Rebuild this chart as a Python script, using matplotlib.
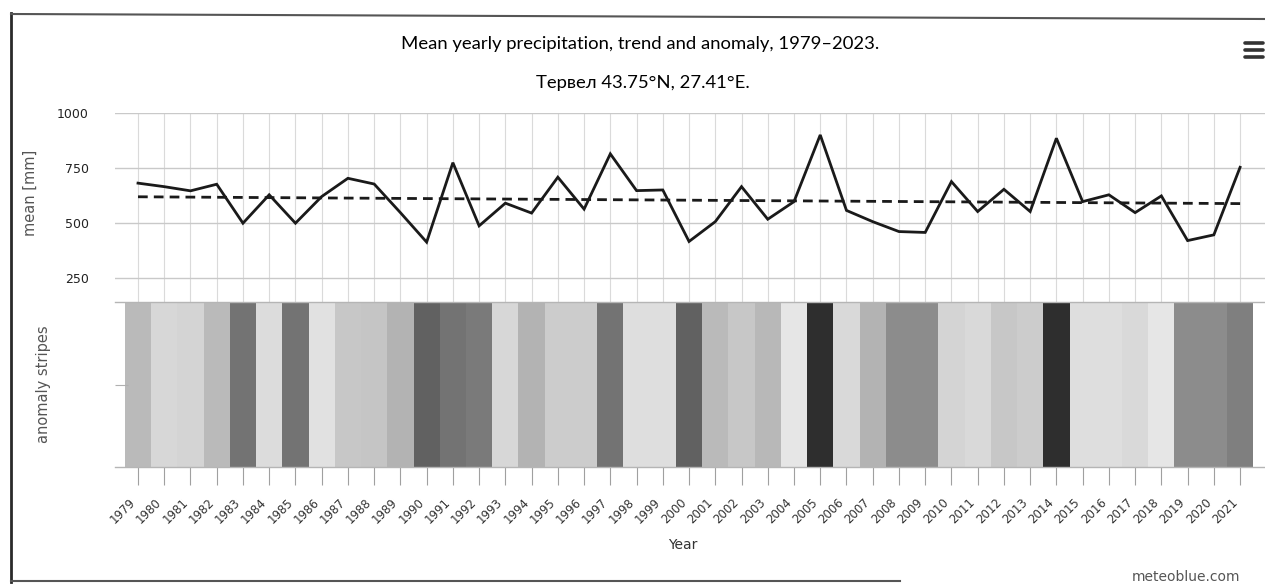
import numpy as np
import matplotlib
matplotlib.use("Agg")
import matplotlib.pyplot as plt
from matplotlib.lines import Line2D

# yearly mean precipitation
years = list(range(1979, 2022))
precip = [680, 664, 645, 675, 498, 627, 498, 619, 702, 676,
          546, 412, 773, 486, 589, 544, 707, 562, 813, 646,
          649, 415, 505, 664, 516, 596, 899, 556, 505, 460,
          456, 687, 551, 652, 551, 884, 596, 627, 546, 622,
          419, 445, 752]

# linear trend, end points
trend_years = [1979, 2021]
trend_mm = [618, 587]

# stripe darkness (0 = white, 1 = black) as seen in the scan
stripe_shade = [0.27, 0.16, 0.17, 0.27, 0.55, 0.14, 0.55, 0.12, 0.22, 0.23,
                0.30, 0.62, 0.55, 0.52, 0.16, 0.30, 0.20, 0.20, 0.55, 0.13,
                0.13, 0.62, 0.27, 0.22, 0.28, 0.10, 0.82, 0.15, 0.30, 0.45,
                0.45, 0.17, 0.15, 0.22, 0.20, 0.82, 0.13, 0.13, 0.15, 0.10,
                0.45, 0.45, 0.50]

y_ticks = [250, 500, 750, 1000]

title = "Mean yearly precipitation, trend and anomaly, 1979\u20132023."
subtitle = "Тервел 43.75°N, 27.41°E."

W, H = 1265, 584
fig = plt.figure(figsize=(W / 100, H / 100), dpi=100)
plt.rcParams['font.family'] = ['DejaVu Sans']


def px_box(x0, y0, x1, y1):
    return [x0 / W, 1 - y1 / H, (x1 - x0) / W, (y1 - y0) / H]


# one year is about 26.24 px, 1979 sits at x=138
x_lo = 1979 - (138 - 115) / 26.24
x_hi = 1979 + (1265 - 138) / 26.24

ax = fig.add_axes(px_box(115, 112.7, 1265, 302))
ax_s = fig.add_axes(px_box(115, 302, 1265, 467))

# --- upper panel: mean and trend
ax.plot(years, precip, color="#1a1a1a", lw=2.0, solid_joinstyle="miter", zorder=3)
ax.plot(trend_years, trend_mm, color="#1a1a1a", lw=2.0, dashes=(3.5, 2.2), zorder=3)
ax.set_xlim(x_lo, x_hi)
ax.set_ylim(140, 1000)
ax.set_xticks(years)
ax.set_yticks(y_ticks)
ax.grid(axis="x", color="#dadada", lw=0.8)
ax.grid(axis="y", color="#c9c9c9", lw=1.0)
ax.tick_params(axis="x", length=0, labelbottom=False)
ax.tick_params(axis="y", length=0, pad=19, labelsize=9, labelcolor="#222222")
for s in ax.spines.values():
    s.set_visible(False)
ax.set_ylabel("mean [mm]", fontsize=10.5, color="#555555")
ax.yaxis.set_label_coords((38 - 115) / 1150, (302 - 193) / 189.3)

# --- lower panel: anomaly stripes
edges = np.append(np.array(years) - 0.5, years[-1] + 0.5)
ax_s.pcolormesh(edges, [0, 1], [stripe_shade], cmap="gray_r", vmin=0, vmax=1)
ax_s.set_xlim(x_lo, x_hi)
ax_s.set_ylim(0, 1)
ax_s.set_xticks(years)
ax_s.set_xticklabels([str(y) for y in years], rotation=45, ha="right")
ax_s.tick_params(axis="x", length=13, width=0.8, color="#a0a0a0", pad=8,
                 labelsize=8.5, labelcolor="#333333")
ax_s.set_yticks([0.5])
ax_s.tick_params(axis="y", direction="in", length=9, width=0.8,
                 color="#b0b0b0", labelleft=False)
for side in ("left", "right"):
    ax_s.spines[side].set_visible(False)
for side in ("top", "bottom"):
    ax_s.spines[side].set_color("#b5b5b5")
    ax_s.spines[side].set_linewidth(1.0)
ax_s.set_ylabel("anomaly stripes", fontsize=10.5, color="#555555")
ax_s.yaxis.set_label_coords((51 - 115) / 1150, 0.5)

# --- texts
title_fam = ["Lato", "DejaVu Sans"]
fig.text(640 / W, 1 - 44 / H, title, ha="center", va="center",
         fontsize=13.3, family=title_fam, color="#000000")
fig.text(643 / W, 1 - 83 / H, subtitle, ha="center", va="center",
         fontsize=13.3, family=title_fam, color="#000000")
fig.text(683 / W, 1 - 545 / H, "Year", ha="center", va="center",
         fontsize=10, color="#333333")
fig.text(1240 / W, 1 - 577 / H, "meteoblue.com", ha="right", va="center",
         fontsize=10, color="#555555")

# menu icon
for yy in (43, 50, 57):
    fig.add_artist(Line2D([1245 / W, 1263 / W], [1 - yy / H, 1 - yy / H],
                          color="#333333", lw=2.6, solid_capstyle="round"))

# scanned page frame
fig.add_artist(Line2D([11 / W, 11 / W], [1 - 13 / H, 1 - 582 / H], color="#2a2a2a", lw=2))
fig.add_artist(Line2D([11 / W, 1 - 0.5 / W], [1 - 14 / H, 1 - 19 / H], color="#555555", lw=1.5))
fig.add_artist(Line2D([11 / W, 900 / W], [1 - 581 / H, 1 - 581 / H], color="#555555", lw=1.5))

fig.savefig("out.png", dpi=100)
